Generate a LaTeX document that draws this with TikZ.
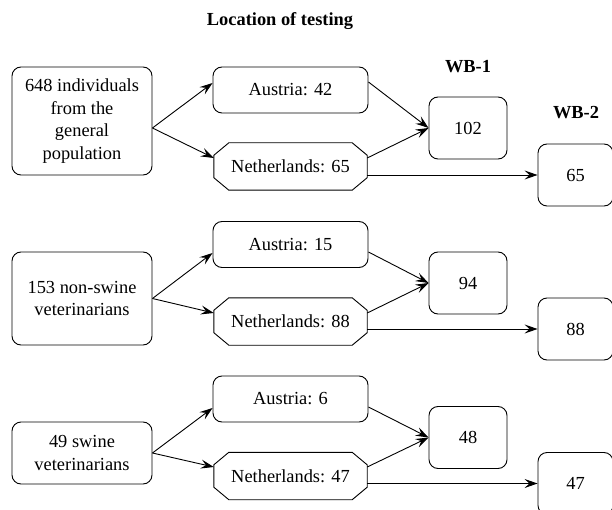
\documentclass[tikz,border=0pt]{standalone}
\usepackage{fontspec}
\setmainfont{Liberation Serif}
\usetikzlibrary{arrows.meta}
% outline with cut corners round a named node
\newcommand\cutbox[1]{\draw[line width=.9pt] ([xshift=15pt]#1.north west) -- ([xshift=-15pt]#1.north east)
  -- ([yshift=-12.5pt]#1.north east) -- ([yshift=12.5pt]#1.south east) -- ([xshift=-15pt]#1.south east)
  -- ([xshift=15pt]#1.south west) -- ([yshift=12.5pt]#1.south west) -- ([yshift=-12.5pt]#1.north west) -- cycle;}
\begin{document}
\begin{tikzpicture}[x=1pt,y=1pt,font=\fontsize{18.4}{22.4}\selectfont,
  box/.style={draw,line width=.9pt,rounded corners=9pt,align=center,inner sep=2pt},
  group/.style={box,minimum width=140pt,minimum height=#1},
  site/.style={box,minimum width=155pt,minimum height=46pt},
  nlsite/.style={minimum width=153pt,minimum height=47pt,inner sep=2pt},
  count/.style={box,minimum width=#1,minimum height=62pt},
  arr/.style={-{Stealth[length=13pt,width=9pt,inset=5pt]},line width=.9pt}]
\useasboundingbox (0,0) rectangle (612,509);
\node[font=\fontsize{18.4}{22.4}\selectfont\bfseries] (title) at (280,488) {Location of testing};
\node[font=\fontsize{18.4}{22.4}\selectfont\bfseries] (wbone) at (468,442) {WB-1};
\node[font=\fontsize{18.4}{22.4}\selectfont\bfseries] (wbtwo) at (576,396) {WB-2};
% general population
\node[group=108pt] (popA) at (82,388) {648 individuals\\from the\\general\\population};
\node[site] (atA) at (290.5,419) {Austria: 42};
\node[nlsite] (nlA) at (290.5,342.5) {Netherlands: 65};
\node[count=78pt] (oneA) at (468,381) {102};
\node[count=75pt] (twoA) at (575.5,334) {65};
% non-swine veterinarians
\node[group=93pt] (popB) at (82,210.5) {153 non-swine\\veterinarians};
\node[site] (atB) at (290.5,264.5) {Austria: 15};
\node[nlsite] (nlB) at (290.5,187.5) {Netherlands: 88};
\node[count=78pt] (oneB) at (468,226) {94};
\node[count=75pt] (twoB) at (575.5,180) {88};
% swine veterinarians
\node[group=62pt] (popC) at (82,56) {49 swine\\veterinarians};
\node[site] (atC) at (290.5,110) {Austria: 6};
\node[nlsite] (nlC) at (290.5,33) {Netherlands: 47};
\node[count=78pt] (oneC) at (468,71.5) {48};
\node[count=75pt] (twoC) at (575.5,25.5) {47};
\cutbox{nlA}
\cutbox{nlB}
\cutbox{nlC}
% arrows
\draw[arr] ([yshift=-7pt]popA.east) -- ([yshift=7pt]atA.west);
\draw[arr] ([yshift=-7pt]popA.east) -- ([yshift=8.5pt]nlA.west);
\draw[arr] ([yshift=8pt]atA.east) -- (oneA.west);
\draw[arr] ([yshift=8.5pt]nlA.east) -- (oneA.west);
\draw[arr] (twoA.west -| nlA.east) -- (twoA.west);
\draw[arr] (popB.east) -- ([yshift=-8.5pt]atB.west);
\draw[arr] (popB.east) -- ([yshift=8.5pt]nlB.west);
\draw[arr] ([yshift=-7.5pt]atB.east) -- (oneB.west);
\draw[arr] ([yshift=8.5pt]nlB.east) -- (oneB.west);
\draw[arr] (twoB.west -| nlB.east) -- (twoB.west);
\draw[arr] (popC.east) -- ([yshift=-9pt]atC.west);
\draw[arr] (popC.east) -- ([yshift=9pt]nlC.west);
\draw[arr] ([yshift=-8pt]atC.east) -- (oneC.west);
\draw[arr] ([yshift=9pt]nlC.east) -- (oneC.west);
\draw[arr] (twoC.west -| nlC.east) -- (twoC.west);
\end{tikzpicture}
\end{document}
